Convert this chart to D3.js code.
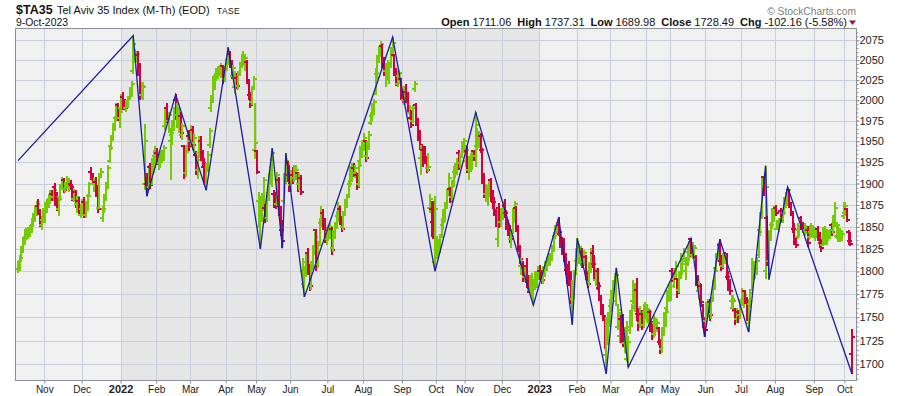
<!DOCTYPE html>
<html>
<head>
<meta charset="utf-8">
<script src="https://cdn.jsdelivr.net/npm/d3@7"></script>
<style>
  body { margin: 0; background: #fff; }
  svg { display: block; font-family: "Liberation Sans", Arial, Helvetica, sans-serif; }
</style>
</head>
<body>
<div id="chart"></div>
<script>
// ---- data: one value per session, one line per month ----
var opens = [
  1803,1806,1812,1824,1833,1838,1840,1841,1846,1852,1860,1866,1874,1866,1852,1858,
  1862,1872,1876,1882,1888,1884,1896,1886,1870,1884,1896,1904,1894,1898,1895,1900,1898,1882,1890,1876,1880,1864,
  1870,1878,1864,1874,1886,1914,1908,1900,1902,1888,1872,1908,1860,1870,1884,1898,1926,1944,1955,1966,1978,1994,1978,
  1990,2004,1996,1990,1994,2004,2010,2036,2058,2054,2056,2040,2006,2006,1900,1900,1896,1920,1900,1926,1932,
  1936,1924,1930,1932,1936,1968,1990,1974,1950,1958,1970,2000,1982,1968,1980,1958,1944,1912,1942,1956,
  1950,1964,1948,1934,1916,1936,1950,1930,1920,1900,1920,1946,1990,2000,2020,2030,2032,2036,2034,2042,2026,
  2040,2050,2058,2046,2030,2016,2028,2018,2034,2044,2046,2046,2048,2022,2006,1998,2016,1940,
  1938,1880,1850,1872,1878,1872,1860,1888,1904,1920,1888,1878,1876,1904,1866,1846,1880,1906,1924,1910,
  1898,1910,1906,1908,1912,1900,1906,1800,1786,1800,1820,1800,1784,1808,1826,1846,1808,1830,1854,1866,1852,1836,
  1844,1846,1848,1826,1842,1852,1862,1870,1858,1850,1866,1876,1886,1900,1906,1918,1912,1910,1900,1926,1936,
  1944,1950,1932,1946,1972,1980,1990,2008,2032,2052,2060,2068,2044,2036,2032,2030,2044,2060,2056,2036,2020,2030,2026,
  2006,2000,2010,2004,1984,1978,1974,2014,1994,1972,1956,1930,1940,1930,1926,1918,1872,1870,1856,1810,
  1820,1818,1828,1840,1852,1862,1874,1890,1894,1884,1900,1914,1918,1936,1924,1934,1944,
  1926,1938,1916,1924,1928,1938,1932,1944,1946,1956,1940,1904,1888,1880,1894,1904,1882,1878,1864,1836,1872,1856,
  1864,1874,1866,1852,1844,1836,1846,1858,1872,1848,1824,1806,1808,1794,1806,1788,1780,1784,1774,1786,1786,1794,
  1800,1794,1790,1800,1806,1812,1814,1818,1826,1840,1846,1852,1842,1832,1836,1814,1802,1800,1786,1770,1786,1800,
  1812,1816,1820,1822,1810,1816,1796,1788,1806,1820,1808,1790,1800,1782,1772,1758,1748,1710,1738,1746,
  1762,1776,1784,1768,1740,1730,1748,1730,1722,1706,1712,1736,1748,1768,1762,1780,1754,1744,1754,1742,1756,
  1750,1752,1756,1740,1732,1744,1740,1738,1724,1716,1736,1746,1760,1770,
  1776,1800,1792,1800,1792,1780,1796,1798,1812,1800,1810,1822,1836,1818,1816,1816,1790,1778,1784,1762,1744,
  1746,1758,1766,1754,1770,1786,1804,1816,1830,1812,1806,1814,1820,1794,1786,1768,1760,1758,1748,1756,1752,
  1766,1764,1778,1766,1744,1764,1780,1794,1800,1806,1818,1846,1866,1908,1800,1860,1812,1838,1852,1864,
  1872,1848,1850,1868,1860,1866,1878,1880,1892,1874,1866,1848,1836,1838,1846,1860,1852,1844,1846,1846,1838,1844,1840,
  1838,1842,1848,1840,1832,1830,1836,1840,1838,1840,1852,1846,1858,1840,1838,1836,1838,1862,
  1866,1871,1844,1834,1711.06
];
var highs = [
  1812,1818,1828,1838,1848,1849,1850,1852,1860,1866,1874,1880,1882,1870,1862,1872,
  1878,1882,1888,1893,1892,1896,1901,1890,1884,1900,1908,1906,1902,1909,1906,1904,1900,1894,1892,1886,1884,1876,
  1882,1884,1880,1888,1902,1920,1912,1906,1908,1898,1912,1918,1874,1888,1902,1922,1946,1958,1972,1980,1996,1996,1990,
  2008,2010,2002,2000,2004,2016,2024,2081,2064,2062,2062,2046,2022,2022,1971,1912,1922,1924,1930,1940,1944,
  1942,1936,1938,1940,1946,1990,1996,1986,1966,1976,1992,2007,1996,1990,1986,1972,1946,1946,1962,1964,
  1970,1968,1960,1938,1934,1956,1956,1940,1930,1924,1938,1966,2006,2030,2034,2040,2042,2044,2046,2044,2042,
  2054,2066,2062,2050,2044,2036,2034,2036,2048,2058,2061,2058,2050,2026,2010,2018,2030,1996,
  1940,1890,1884,1889,1908,1876,1890,1912,1930,1942,1892,1890,1914,1908,1874,1858,1912,1936,1926,1922,
  1916,1920,1922,1922,1914,1912,1910,1815,1806,1822,1826,1808,1812,1830,1844,1848,1834,1860,1874,1870,1860,1850,
  1852,1855,1850,1846,1856,1868,1878,1874,1862,1868,1882,1888,1904,1921,1924,1924,1922,1912,1926,1944,1951,
  1960,1952,1950,1962,1986,1996,2002,2040,2056,2068,2074,2070,2054,2046,2050,2048,2066,2079,2058,2040,2036,2038,2028,
  2012,2018,2020,2010,1994,1988,1994,2024,1996,1978,1964,1946,1944,1944,1932,1936,1888,1880,1880,1886,
  1840,1836,1842,1860,1870,1878,1894,1912,1896,1904,1921,1924,1930,1940,1936,1950,1954,
  1946,1944,1932,1936,1938,1940,1985,1966,1962,1960,1942,1912,1900,1898,1904,1906,1892,1884,1870,1869,1877,1872,
  1880,1882,1869,1858,1852,1846,1872,1880,1874,1852,1830,1815,1812,1806,1815,1796,1796,1798,1792,1800,1800,1806,
  1807,1802,1806,1812,1816,1820,1821,1830,1844,1852,1856,1861,1846,1838,1837,1820,1808,1812,1800,1790,1802,1826,
  1837,1830,1828,1826,1824,1818,1800,1810,1826,1830,1818,1804,1804,1788,1774,1764,1752,1750,1756,1770,
  1780,1790,1798,1804,1764,1756,1752,1753,1740,1746,1730,1758,1764,1791,1786,1793,1760,1762,1758,1764,1766,
  1764,1760,1758,1746,1752,1750,1748,1740,1727,1740,1756,1760,1780,1786,
  1788,1804,1804,1812,1793,1800,1821,1812,1826,1816,1828,1834,1837,1833,1830,1818,1796,1789,1786,1764,1750,
  1766,1770,1770,1772,1790,1804,1820,1832,1836,1818,1820,1822,1821,1800,1792,1774,1774,1760,1760,1758,1770,
  1782,1780,1780,1772,1770,1780,1815,1812,1812,1816,1848,1866,1909,1909,1921,1862,1846,1856,1872,1874,
  1875,1858,1860,1872,1870,1884,1890,1896,1894,1878,1868,1855,1840,1855,1852,1863,1856,1854,1852,1851,1852,1854,1852,
  1850,1848,1851,1844,1836,1850,1851,1848,1846,1848,1855,1864,1879,1856,1851,1848,1846,1879,
  1878,1872,1846,1844,1737.31
];
var lows = [
  1798,1801,1810,1820,1830,1835,1836,1838,1843,1850,1856,1862,1864,1850,1847,1854,
  1855,1866,1872,1876,1880,1880,1874,1868,1862,1880,1892,1889,1890,1894,1890,1892,1880,1878,1872,1866,1862,1860,
  1862,1860,1860,1868,1884,1904,1898,1890,1884,1866,1870,1906,1856,1866,1880,1894,1924,1940,1950,1962,1974,1974,1966,
  1984,1988,1988,1986,1990,2000,2004,2032,2046,2048,2030,2000,2002,2000,1893,1885,1892,1894,1898,1912,1918,
  1922,1916,1918,1924,1926,1964,1972,1960,1904,1946,1962,1976,1966,1960,1954,1952,1905,1908,1936,1938,
  1944,1940,1938,1910,1905,1930,1926,1920,1900,1892,1914,1942,1986,1996,2012,2024,2026,2030,2028,2020,2022,
  2036,2044,2040,2026,2026,2008,2014,2012,2030,2040,2042,2036,2020,2000,1990,1994,2014,1929,
  1911,1850,1825,1856,1868,1854,1856,1880,1898,1896,1872,1870,1874,1862,1840,1826,1876,1900,1902,1890,
  1890,1900,1902,1904,1890,1892,1887,1782,1772,1794,1796,1778,1780,1802,1818,1800,1804,1828,1850,1846,1832,1830,
  1834,1836,1818,1822,1836,1848,1856,1852,1844,1846,1862,1872,1884,1896,1902,1908,1906,1892,1896,1920,1930,
  1938,1925,1928,1940,1970,1974,1982,2006,2026,2046,2054,2040,2030,2016,2024,2020,2040,2054,2030,2018,2016,2020,2000,
  1996,1994,1996,1986,1976,1966,1972,2010,1968,1950,1940,1910,1920,1924,1912,1914,1866,1838,1836,1800,
  1814,1815,1820,1838,1846,1856,1870,1886,1877,1880,1896,1906,1910,1916,1918,1930,1936,
  1920,1912,1904,1914,1916,1926,1920,1940,1942,1936,1900,1883,1880,1874,1884,1878,1870,1862,1850,1827,1849,1850,
  1858,1860,1846,1840,1832,1826,1842,1854,1844,1822,1808,1796,1788,1788,1782,1776,1776,1772,1763,1780,1782,1790,
  1790,1786,1786,1794,1800,1806,1806,1812,1822,1836,1842,1840,1826,1818,1810,1796,1786,1784,1764,1742,1770,1796,
  1806,1808,1806,1804,1806,1790,1782,1784,1798,1804,1792,1784,1780,1768,1752,1746,1716,1690,1720,1740,
  1756,1770,1778,1762,1736,1722,1722,1718,1712,1702,1697,1732,1740,1764,1756,1746,1735,1738,1736,1738,1748,
  1744,1740,1734,1726,1728,1730,1734,1720,1711,1712,1730,1740,1756,1766,
  1768,1788,1782,1790,1771,1776,1792,1796,1810,1791,1806,1812,1816,1814,1814,1784,1782,1770,1761,1738,1729,
  1740,1750,1746,1748,1766,1780,1800,1810,1806,1800,1804,1808,1790,1778,1774,1760,1756,1742,1744,1744,1748,
  1762,1760,1764,1746,1734,1760,1778,1790,1792,1796,1815,1840,1860,1886,1792,1806,1791,1834,1848,1856,
  1862,1846,1844,1856,1854,1864,1872,1874,1872,1862,1843,1830,1826,1836,1838,1846,1843,1840,1842,1827,1836,1838,1837,
  1834,1837,1834,1826,1822,1828,1829,1830,1834,1836,1840,1842,1850,1836,1833,1833,1834,1859,
  1862,1856,1830,1828,1689.98
];
var closes = [
  1810,1815,1826,1835,1845,1846,1843,1850,1857,1862,1870,1876,1868,1853,1858,1868,
  1874,1879,1885,1890,1884,1893,1878,1872,1882,1897,1904,1892,1898,1905,1902,1896,1882,1890,1876,1884,1866,1872,
  1878,1864,1876,1886,1900,1906,1902,1904,1888,1870,1910,1914,1870,1884,1898,1918,1942,1954,1968,1976,1992,1978,1986,
  2004,1994,1990,1998,2002,2012,2020,2070,2060,2058,2034,2004,2018,2016,1950,1896,1918,1898,1926,1934,1938,
  1926,1932,1934,1936,1942,1984,1976,1982,1960,1970,1988,1980,1990,1984,1960,1968,1910,1940,1958,1944,
  1962,1946,1954,1916,1928,1950,1930,1924,1912,1920,1934,1962,2000,2024,2030,2036,2040,2038,2042,2024,2038,
  2050,2060,2044,2030,2040,2030,2018,2032,2044,2054,2056,2052,2024,2004,1994,2014,2026,1948,
  1914,1884,1878,1882,1904,1858,1886,1906,1926,1936,1876,1874,1910,1866,1846,1834,1906,1926,1906,1896,
  1910,1906,1918,1916,1894,1908,1890,1810,1800,1818,1800,1784,1808,1826,1838,1806,1830,1856,1868,1850,1836,1846,
  1848,1850,1824,1842,1852,1864,1874,1856,1848,1864,1878,1884,1900,1916,1920,1912,1918,1896,1922,1940,1946,
  1954,1930,1946,1958,1982,1992,1998,2034,2050,2064,2070,2044,2036,2040,2046,2042,2060,2072,2034,2022,2032,2034,2004,
  2000,2012,2002,1990,1990,1970,1990,2020,1972,1956,1946,1940,1924,1928,1916,1920,1882,1844,1846,1870,
  1834,1830,1838,1856,1866,1872,1890,1906,1880,1900,1916,1920,1926,1920,1932,1946,1950,
  1940,1918,1928,1930,1934,1930,1970,1960,1958,1940,1904,1888,1896,1894,1900,1882,1878,1866,1862,1860,1852,1866,
  1876,1866,1850,1844,1836,1840,1866,1876,1848,1826,1814,1810,1792,1802,1786,1780,1792,1790,1788,1796,1796,1802,
  1794,1790,1800,1808,1812,1816,1818,1826,1840,1848,1852,1844,1830,1822,1814,1800,1790,1788,1780,1784,1798,1820,
  1830,1824,1822,1808,1820,1794,1786,1806,1820,1808,1796,1800,1784,1772,1756,1750,1724,1740,1748,1764,
  1776,1786,1792,1796,1758,1748,1728,1724,1736,1740,1724,1752,1760,1786,1780,1752,1742,1756,1740,1758,1762,
  1758,1756,1738,1730,1748,1746,1744,1724,1716,1736,1750,1756,1774,1782,
  1784,1792,1800,1806,1776,1796,1814,1808,1822,1812,1824,1830,1820,1828,1826,1790,1786,1784,1766,1744,1736,
  1760,1764,1752,1768,1786,1800,1816,1826,1810,1804,1816,1818,1794,1784,1778,1770,1768,1746,1756,1750,1766,
  1778,1774,1768,1750,1764,1776,1810,1806,1808,1812,1844,1860,1900,1890,1896,1810,1838,1852,1866,1870,
  1866,1854,1856,1860,1866,1880,1886,1892,1876,1866,1848,1836,1830,1850,1848,1850,1846,1850,1848,1832,1848,1850,1846,
  1846,1844,1838,1830,1826,1846,1846,1844,1842,1846,1844,1860,1872,1852,1848,1844,1842,1874,
  1874,1858,1834,1830.65,1728.49
];

// month tick labels and the session index where each month starts
var monthLabels = ["Nov","Dec","2022","Feb","Mar","Apr","May","Jun","Jul","Aug","Sep","Oct",
                   "Nov","Dec","2023","Feb","Mar","Apr","May","Jun","Jul","Aug","Sep","Oct"];
var monthStart = [16,38,61,82,102,123,141,161,183,204,227,247,
                  264,286,308,330,350,371,385,406,427,447,470,488];

var priceTicks = [1700,1725,1750,1775,1800,1825,1850,1875,1900,1925,1950,1975,2000,2025,2050,2075];

// zigzag overlay pivots (session index, price)
var zigIdx = [0,68,76,93,111,124,143,150,156,158,169,221,246,270,304,319,327,330,347,353,360,397,405,414,431,441,443,454,492];
var zigVal = [1927,2081,1885,2007,1892,2066,1825,1942,1826,1936,1772,2079,1800,1985,1763,1861,1742,1837,1690,1804,1697,1837,1729,1836,1734,1921,1791,1896,1689.98];

// ---- chart ----
var W = 900, H = 396;
var box = {left: 16, top: 29, right: 856, bottom: 380};
var N = Math.min(opens.length, highs.length, lows.length, closes.length);
var last = N - 1;
var upColor = "#74cc00", downColor = "#d2003c";

var svg = d3.select("#chart").append("svg")
    .attr("width", W)
    .attr("height", H);

var x = d3.scaleLinear().domain([0, N - 1]).range([18, 852]);
var y = d3.scaleLog().domain([1683.7, 2089.5]).range([box.bottom, box.top]);
function py(v) { return Math.round(y(v)); }

svg.append("defs").append("clipPath").attr("id", "plotclip")
    .append("rect")
    .attr("x", box.left).attr("y", box.top)
    .attr("width", box.right - box.left).attr("height", box.bottom - box.top);

// plot background, the year 2022 gets a darker band
svg.append("rect")
    .attr("x", box.left).attr("y", box.top)
    .attr("width", box.right - box.left).attr("height", box.bottom - box.top)
    .attr("fill", "#f0f0f0");

var yearPos = [];
monthLabels.forEach(function(l, i) { if (/^\d{4}$/.test(l)) yearPos.push(i); });
var bandL = Math.round(x(monthStart[yearPos[0]] - 0.5)), bandR = Math.round(x(monthStart[yearPos[1]] - 0.5));
svg.append("rect")
    .attr("x", bandL).attr("y", box.top)
    .attr("width", bandR - bandL).attr("height", box.bottom - box.top)
    .attr("fill", "#e6e6e6");

// grid
var grid = svg.append("g").attr("stroke", "#c9ced8").attr("stroke-width", 1);
grid.selectAll(".hg").data(priceTicks).enter().append("line")
    .attr("x1", box.left).attr("x2", box.right)
    .attr("y1", function(d) { return py(d) + 0.5; })
    .attr("y2", function(d) { return py(d) + 0.5; });
grid.selectAll(".vg").data(monthStart).enter().append("line")
    .attr("y1", box.top).attr("y2", box.bottom)
    .attr("x1", function(d) { return Math.round(x(d - 0.5)) + 0.5; })
    .attr("x2", function(d) { return Math.round(x(d - 0.5)) + 0.5; });

var plot = svg.append("g").attr("clip-path", "url(#plotclip)");

// OHLC bars; the latest session takes the colour of its change vs. the previous close
function isUp(i) {
    if (i === last) return closes[i] >= closes[i - 1];
    return closes[i] >= opens[i];
}
var bars = plot.selectAll(".bar").data(d3.range(N)).enter().append("g")
    .attr("fill", function(i) { return isUp(i) ? upColor : downColor; });

bars.append("rect")
    .attr("x", function(i) { return Math.round(x(i)) - 1; })
    .attr("width", 2)
    .attr("y", function(i) { return py(highs[i]); })
    .attr("height", function(i) { return Math.max(1, py(lows[i]) - py(highs[i])); });
bars.append("rect")
    .attr("x", function(i) { return Math.round(x(i)) - 3; })
    .attr("width", 2)
    .attr("y", function(i) { return py(opens[i]) - 1; })
    .attr("height", 2);
bars.append("rect")
    .attr("x", function(i) { return Math.round(x(i)) + 1; })
    .attr("width", 2)
    .attr("y", function(i) { return py(closes[i]) - 1; })
    .attr("height", 2);

// zigzag
var zig = d3.line()
    .x(function(d) { return x(d); })
    .y(function(d, k) { return y(zigVal[k]); });
plot.append("path")
    .attr("d", zig(zigIdx))
    .attr("fill", "none")
    .attr("stroke", "#1c1ca6")
    .attr("stroke-width", 1.3);

// frame
svg.append("rect")
    .attr("x", box.left - 0.5).attr("y", box.top - 0.5)
    .attr("width", box.right - box.left + 1).attr("height", box.bottom - box.top + 1)
    .attr("fill", "none").attr("stroke", "#8c9098");

// right price axis
var minorTicks = d3.range(1685, 2090, 5);
var yMinor = svg.append("g").attr("transform", "translate(" + (box.right + 0.5) + ",0)")
    .call(d3.axisRight(y).tickValues(minorTicks).tickFormat("").tickSize(2));
yMinor.select(".domain").remove();
yMinor.selectAll("line").attr("stroke", "#8c9098");

var yAxis = svg.append("g").attr("transform", "translate(" + (box.right + 0.5) + ",0)")
    .call(d3.axisRight(y).tickValues(priceTicks).tickFormat(d3.format("d")).tickSize(3).tickPadding(0));
yAxis.select(".domain").remove();
yAxis.selectAll("line").attr("stroke", "#8c9098");
yAxis.selectAll("text")
    .attr("font-family", "Liberation Sans, Arial, sans-serif")
    .attr("font-size", 11)
    .attr("fill", "#222");

// bottom month axis
var xAxis = svg.append("g").attr("transform", "translate(0," + (box.bottom + 0.5) + ")")
    .call(d3.axisBottom(x)
        .tickValues(monthStart.map(function(s) { return s - 0.5; }))
        .tickFormat(function(d, i) { return monthLabels[i]; })
        .tickSize(3).tickPadding(2));
xAxis.select(".domain").remove();
xAxis.selectAll("line").attr("stroke", "#8c9098");
xAxis.selectAll("text")
    .attr("font-family", "Liberation Sans, Arial, sans-serif")
    .attr("fill", "#222")
    .attr("font-size", function(d, i) { return /^\d{4}$/.test(monthLabels[i]) ? 11 : 10; })
    .attr("font-weight", function(d, i) { return /^\d{4}$/.test(monthLabels[i]) ? "bold" : "normal"; });

// header
svg.append("text").attr("x", 16).attr("y", 14)
    .attr("font-size", 12.5).attr("font-weight", "bold").attr("fill", "#111")
    .text("$TA35");
svg.append("text").attr("x", 57).attr("y", 14)
    .attr("font-size", 11).attr("fill", "#111")
    .text("Tel Aviv 35 Index (M-Th) (EOD)");
svg.append("text").attr("x", 217).attr("y", 14)
    .attr("font-size", 8.5).attr("letter-spacing", 0.4).attr("fill", "#111")
    .text("TASE");
svg.append("text").attr("x", 16).attr("y", 26)
    .attr("font-size", 10.4).attr("fill", "#111")
    .text("9-Oct-2023");
svg.append("text").attr("x", box.right).attr("y", 15)
    .attr("text-anchor", "end").attr("font-size", 10.3).attr("fill", "#808080")
    .text("\u00a9 StockCharts.com");

var chg = closes[last] - closes[last - 1];
var pct = chg / closes[last - 1] * 100;
var quote = svg.append("text").attr("x", 847).attr("y", 26)
    .attr("text-anchor", "end").attr("font-size", 11).attr("fill", "#111");
[["Open", opens[last]], ["High", highs[last]], ["Low", lows[last]], ["Close", closes[last]]]
    .forEach(function(p, k) {
        quote.append("tspan").attr("font-weight", "bold").attr("dx", k ? 6 : 0).text(p[0]);
        quote.append("tspan").attr("dx", 3).text(p[1].toFixed(2));
    });
quote.append("tspan").attr("font-weight", "bold").attr("dx", 6).text("Chg");
quote.append("tspan").attr("dx", 3).text(chg.toFixed(2) + " (" + pct.toFixed(2) + "%)");

svg.append("path")
    .attr("d", "M849,20.5L856,20.5L852.5,25Z")
    .attr("fill", chg < 0 ? "#a01040" : upColor);
</script>
</body>
</html>
